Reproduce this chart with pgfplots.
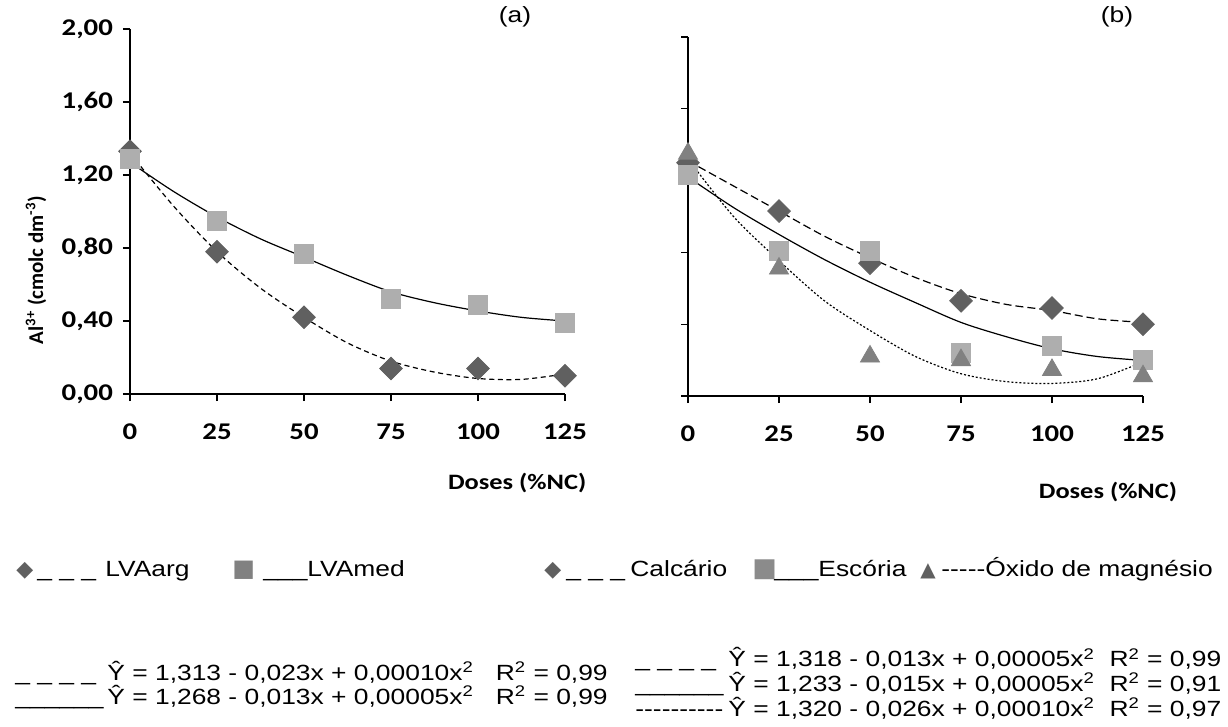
\documentclass[border=0pt]{standalone}
\usepackage{fontspec}
\setmainfont{Liberation Sans}[FakeStretch=1.2]
\newfontfamily\carlito{Carlito}[FakeStretch=1.2]
\newfontfamily\carlitoN{Carlito}[FakeStretch=1.0]
\newfontfamily\dejavu{DejaVu Sans}
\usepackage{pgfplots}
\pgfplotsset{compat=1.18}
\definecolor{dk}{HTML}{606060}
\definecolor{lt}{HTML}{AEAEAE}
\definecolor{md}{HTML}{818181}
\pgfplotsset{myax/.style={
  scale only axis, xmin=0, xmax=125, ymin=0, ymax=2,
  axis lines*=left,
  xtick={0,25,50,75,100,125},
  ytick={0,0.4,0.8,1.2,1.6,2},
  tick align=outside, major tick length=3.5pt,
  tick style={black, line width=0.6pt},
  axis line style={black, line width=0.6pt},
  /pgf/number format/assume math mode=true,
  tick label style={font=\carlito\bfseries\fontsize{12}{14}\selectfont},
  label style={font=\carlito\bfseries\fontsize{11}{13}\selectfont},
  xticklabel style={yshift=-8pt},
  yticklabel style={xshift=-1.5pt},
  clip=false,
}}
\begin{document}
\begin{tikzpicture}
\useasboundingbox (0,0) rectangle (614pt,-363.5pt);
% ---------------- panel (a)
\begin{axis}[myax, at={(65pt,-197pt)}, anchor=south west,
  width=217.5pt, height=182.5pt,
  yticklabels={{0,00},{0,40},{0,80},{1,20},{1,60},{2,00}},
  xlabel={Doses (\%NC)},
  xlabel style={at={(axis description cs:0.89,-0.244)}, anchor=center}]
\addplot[only marks, mark=square*, mark size=4pt, mark options={rotate=45, fill=dk, draw=dk}]
  coordinates {(0,1.33)(25,0.78)(50,0.42)(75,0.14)(100,0.14)(125,0.10)};
\addplot[only marks, mark=square*, mark size=4.75pt, mark options={fill=lt, draw=lt}]
  coordinates {(0,1.29)(25,0.95)(50,0.77)(75,0.52)(100,0.49)(125,0.39)};
\addplot[smooth, black, line width=0.6pt, dash pattern=on 2.5pt off 1.8pt]
  coordinates {(0,1.32)(12.5,1.03)(25,0.78)(37.5,0.58)(50,0.42)(62.5,0.28)(75,0.18)(87.5,0.12)(100,0.085)(112.5,0.08)(125,0.11)};
\addplot[smooth, black, line width=0.6pt]
  coordinates {(0,1.27)(12.5,1.11)(25,0.97)(37.5,0.85)(50,0.75)(62.5,0.65)(75,0.56)(87.5,0.50)(100,0.455)(112.5,0.42)(125,0.40)};
\node[font=\fontsize{11}{13}\selectfont] at (axis description cs:0.885,1.033) {(a)};
\end{axis}
\node[rotate=90, anchor=center, inner sep=0pt, font=\carlitoN\bfseries\fontsize{10.5}{13}\selectfont]
  at (18pt,-135pt) {Al\textsuperscript{3+} (cmolc dm\textsuperscript{-3})};
% ---------------- panel (b)
\begin{axis}[myax, at={(344pt,-198pt)}, anchor=south west,
  width=227.5pt, height=179.5pt,
  yticklabels={},
  xlabel={Doses (\%NC)},
  xlabel style={at={(axis description cs:0.923,-0.267)}, anchor=center}]
\addplot[only marks, mark=square*, mark size=4pt, mark options={rotate=45, fill=dk, draw=dk}]
  coordinates {(0,1.30)(25,1.03)(50,0.74)(75,0.53)(100,0.49)(125,0.40)};
\addplot[only marks, mark=square*, mark size=4.75pt, mark options={fill=lt, draw=lt}]
  coordinates {(0,1.23)(25,0.81)(50,0.81)(75,0.24)(100,0.28)(125,0.20)};
\addplot[only marks, mark=triangle*, mark size=5.5pt, mark options={fill=md, draw=md}]
  coordinates {(0,1.35)(25,0.71)(50,0.22)(75,0.20)(100,0.145)(125,0.11)};
\addplot[smooth, black, line width=0.6pt, dash pattern=on 4pt off 2pt]
  coordinates {(0,1.31)(12.5,1.17)(25,1.03)(37.5,0.89)(50,0.77)(62.5,0.66)(75,0.57)(87.5,0.51)(100,0.476)(112.5,0.43)(125,0.41)};
\addplot[smooth, black, line width=0.6pt]
  coordinates {(0,1.22)(12.5,1.05)(25,0.90)(37.5,0.76)(50,0.634)(62.5,0.52)(75,0.41)(87.5,0.33)(100,0.263)(112.5,0.22)(125,0.198)};
\addplot[smooth, black, line width=0.6pt, dash pattern=on 1pt off 1pt]
  coordinates {(0,1.32)(12.5,1.0)(25,0.754)(37.5,0.53)(50,0.365)(62.5,0.22)(75,0.124)(87.5,0.08)(100,0.07)(112.5,0.096)(125,0.19)};
\node[font=\fontsize{11}{13}\selectfont] at (axis description cs:0.943,1.056) {(b)};
\end{axis}
% ---------------- legends (text)
\begin{scope}[every node/.style={inner sep=0pt, anchor=base west, font=\fontsize{11}{13}\selectfont}]
\node at (8pt,-288pt) {\dejavu\fontsize{11}{11}\selectfont\color{dk}◆};
\node at (18.5pt,-288pt) {\_ \_ \_};
\node at (52.5pt,-288pt) {LVAarg};
\node at (116pt,-288pt) {\dejavu\fontsize{12}{13}\selectfont\color{md}■};
\node at (131.5pt,-288pt) {\_\_\_LVAmed};
\node at (272pt,-288pt) {\dejavu\fontsize{11}{11}\selectfont\color{dk}◆};
\node at (283pt,-288pt) {\_ \_ \_};
\node at (315pt,-288pt) {Calcário};
\node at (376pt,-288pt) {\dejavu\fontsize{13}{13}\selectfont\color{lt!80!black}■};
\node at (387pt,-288pt) {\_\_\_Escória};
\node at (460pt,-288pt) {\dejavu\fontsize{10}{10}\selectfont\color{dk}▲};
\node at (470.5pt,-288pt) {-{}-{}-{}-{}-Óxido de magnésio};
% equations
\node at (7.5pt,-340pt) {\_ \_ \_ \_};
\node at (7.5pt,-352.25pt) {\_\_\_\_\_\_};
\node at (53.5pt,-340pt) {Ŷ = 1,313 - 0,023x + 0,00010x\textsuperscript{2}\ \ \ R\textsuperscript{2} = 0,99};
\node at (53.5pt,-352.25pt) {Ŷ = 1,268 - 0,013x + 0,00005x\textsuperscript{2}\ \ \ R\textsuperscript{2} = 0,99};
\node at (317.5pt,-333.5pt) {\_ \_ \_ \_};
\node at (317.5pt,-345.75pt) {\_\_\_\_\_\_};
\node at (317.5pt,-358pt) {-{}-{}-{}-{}-{}-{}-{}-{}-{}-};
\node at (364pt,-333.5pt) {Ŷ = 1,318 - 0,013x + 0,00005x\textsuperscript{2}\ \ R\textsuperscript{2} = 0,99};
\node at (364pt,-345.75pt) {Ŷ = 1,233 - 0,015x + 0,00005x\textsuperscript{2}\ \ R\textsuperscript{2} = 0,91};
\node at (364pt,-358pt) {Ŷ = 1,320 - 0,026x + 0,00010x\textsuperscript{2}\ \ R\textsuperscript{2} = 0,97};
\end{scope}
\end{tikzpicture}
\end{document}
